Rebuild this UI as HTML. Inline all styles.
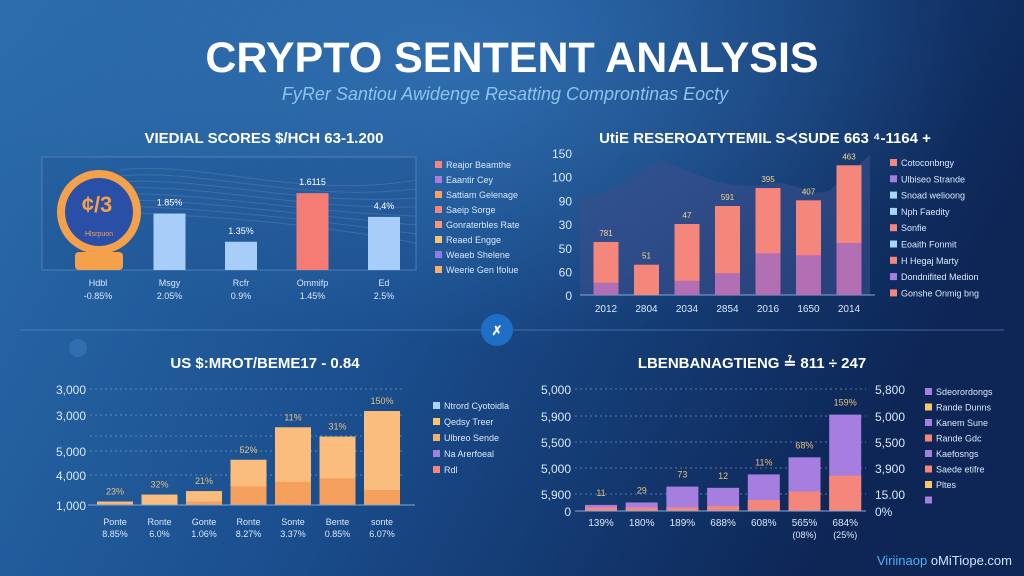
<!DOCTYPE html>
<html><head><meta charset="utf-8"><style>
body{margin:0;width:1024px;height:576px;overflow:hidden;font-family:"Liberation Sans",sans-serif}
svg{display:block}
</style></head><body>
<svg id="s" width="1024" height="576" viewBox="0 0 1024 576" xmlns="http://www.w3.org/2000/svg">
<defs>
<linearGradient id="bg" x1="0" y1="0" x2="1" y2="0.3"><stop offset="0" stop-color="#2b6cab"/><stop offset="0.5" stop-color="#1b4f8f"/><stop offset="1" stop-color="#0d2656"/></linearGradient>
<radialGradient id="glow" cx="0.45" cy="0.1" r="0.5"><stop offset="0" stop-color="#3c7fc0" stop-opacity="0.6"/><stop offset="1" stop-color="#3c7fc0" stop-opacity="0"/></radialGradient>
</defs>
<rect width="1024" height="576" fill="url(#bg)"/>
<rect width="1024" height="576" fill="url(#glow)"/>
<circle cx="78" cy="348" r="9" fill="#3c7fc0" opacity="0.5"/>
<text x="512" y="72" text-anchor="middle" fill="#fff" font-size="43" font-weight="bold">CRYPTO SENTENT ANALYSIS</text>
<text x="505" y="100" text-anchor="middle" fill="#8ec3f0" font-size="18" font-style="italic">FyRer Santiou Awidenge Resatting Comprontinas Eocty</text>
<line x1="20" y1="330" x2="1004" y2="330" stroke="#5a8fd0" stroke-opacity="0.6"/>
<circle cx="497" cy="330" r="16" fill="#1d6ec4"/>
<text x="497" y="335" text-anchor="middle" fill="#fff" font-size="13" font-weight="bold">✗</text>
<text x="1012" y="565" text-anchor="end" fill="#cfe3ff" font-size="13"><tspan fill="#4fb0f0">Viriinaop</tspan> oMiTiope.com</text>
<g id="g"></g>
</svg>
<script>
// Panel 1 data
const p1Cats=["Hdbl","Msgy","Rcfr","Ommifp","Ed"];
const p1Sub=["-0.85%","2.05%","0.9%","1.45%","2.5%"];
const p1Vals=[null,50,25,68,47];
const p1Labels=["","1.85%","1.35%","1.6115","4,4%"];
const p1Legend=["Reajor Beamthe","Eaantir Cey","Sattiam Gelenage","Saeip Sorge","Gonraterbles Rate","Reaed Engge","Weaeb Shelene","Weerie Gen Ifolue"];
const p1LegCol=["#f4867c","#a57ee0","#f7a25e","#f4867c","#f49874","#f8c66f","#8f7be8","#f7b068"];
// Panel 2 data
const p2Cats=["2012","2804","2034","2854","2016","1650","2014"];
const p2Vals=[56,32,75,94,113,100,137];
const p2Inner=[13,0,15,23,44,42,55];
const p2Labels=["781","51","47","591","395","407","463"];
const p2Ticks=["150","100","90","30","50","60","0"];
const p2Legend=["Cotoconbngy","Ulbiseo Strande","Snoad welioong","Nph Faedity","Sonfie","Eoaith Fonmit","H Hegaj Marty","Dondnifited Medion","Gonshe Onmig bng"];
const p2LegCol=["#f4867c","#a57ee0","#a9d4fb","#a9d4fb","#f4867c","#a9d4fb","#f4867c","#a57ee0","#f4867c"];
// Panel 3 data
const p3Cats=["Ponte","Ronte","Gonte","Ronte","Sonte","Bente","sonte"];
const p3Sub=["8.85%","6.0%","1.06%","8.27%","3.37%","0.85%","6.07%"];
const p3Vals=[3,9,12,39,67,59,81];
const p3Dark=[1,0,3,16,20,23,13];
const p3Labels=["23%","32%","21%","52%","11%","31%","150%"];
const p3Ticks=["3,000","3,000","5,000","4,000","1,000"];
const p3Legend=["Ntrord Cyotoidla","Qedsy Treer","Ulbreo Sende","Na Arerfoeal","Rdl"];
const p3LegCol=["#a9d4fb","#f8c66f","#f7b068","#a57ee0","#f4867c"];
// Panel 4 data
const p4Cats=["139%","180%","189%","688%","608%","565%","684%"];
const p4Sub=["","","","","","(08%)","(25%)"];
const p4Vals=[5,7,20,19,30,44,79];
const p4Pink=[3,3,3,4,9,16,29];
const p4Labels=["11","29","73","12","11%","68%","159%"];
const p4TicksL=["5,000","5,900","5,500","5,000","5,900","0"];
const p4TicksR=["5,800","5,000","5,500","3,900","15.00","0%"];
const p4Legend=["Sdeorordongs","Rande Dunns","Kanem Sune","Rande Gdc","Kaefosngs","Saede etifre","Pltes",""];
const p4LegCol=["#a57ee0","#f8c66f","#a57ee0","#f4867c","#a57ee0","#f4867c","#f8c66f","#a57ee0"];

const NS="http://www.w3.org/2000/svg";
const G=document.getElementById('g');
function mk(tag,attrs,txt){const e=document.createElementNS(NS,tag);for(const k in attrs)e.setAttribute(k,attrs[k]);if(txt!==undefined)e.textContent=txt;G.appendChild(e);return e;}
function legend(names,cols,x,y0,step,key){names.forEach((n,i)=>{
 const r=mk('rect',{x:x,y:y0+i*step-7,width:7,height:7,fill:cols[i]});
 
 
 const t=mk('text',{x:x+11,y:y0+i*step,fill:'#dbe8fa','font-size':9},n);
 
 
});}

// ---- Panel 1 ----
const t1=mk('text',{x:264,y:143,'text-anchor':'middle',fill:'#fff','font-size':15,'font-weight':'bold'},'VIEDIAL SCORES $/HCH 63-1.200');


const box=mk('rect',{x:42,y:157,width:374,height:113,fill:'#1d4f90','fill-opacity':0.3,stroke:'#6d93c8','stroke-opacity':0.6});


for(let i=0;i<8;i++)mk('path',{d:`M120 ${170+i*6} C200 ${160+i*8},300 ${200+i*3},416 ${180+i*9}`,stroke:'#6f90c0','stroke-opacity':0.35,fill:'none'});
const y1=v=>270-v*1.13;
const x1=i=>98+i*71.5;
// medal
mk('rect',{x:75,y:252,width:48,height:18,rx:4,fill:'#f5a04a'});
mk('circle',{cx:99,cy:212,r:42,fill:'#f5a04a'});
const md=mk('circle',{cx:99,cy:212,r:34,fill:'#2a4fa6'});


mk('text',{x:97,y:212,'text-anchor':'middle',fill:'#f5a04a','font-size':22,'font-weight':'bold'},'¢/3');
mk('text',{x:99,y:236,'text-anchor':'middle',fill:'#f5a04a','font-size':7},'Hlsrpuon');
p1Cats.forEach((c,i)=>{
 const cx=x1(i);
 if(p1Vals[i]!==null){
  const b=mk('rect',{x:cx-16,y:y1(p1Vals[i]),width:32,height:270-y1(p1Vals[i]),fill:i===3?'#f47c74':'#a8cdf8'});
  
  
  mk('text',{x:cx,y:y1(p1Vals[i])-8,'text-anchor':'middle',fill:'#fff','font-size':9},p1Labels[i]);
 }
 const l=mk('text',{x:cx,y:286,'text-anchor':'middle',fill:'#dbe8fa','font-size':9},c);
 
 
 mk('text',{x:cx,y:299,'text-anchor':'middle',fill:'#dbe8fa','font-size':9},p1Sub[i]);
});
legend(p1Legend,p1LegCol,435,168,15,'panel1');

// ---- Panel 2 ----
const t2=mk('text',{x:765,y:143,'text-anchor':'middle',fill:'#fff','font-size':15,'font-weight':'bold'},'UtiE RESEROΔTYTEMIL S≺SUDE 663 ⁴-1164 +');


mk('path',{d:'M580 200 C620 190,640 170,660 160 C690 170,720 190,760 185 C790 175,810 200,830 190 L870 155 L870 295 L580 295 Z',fill:'#3a4f8c','fill-opacity':0.6});
const y2=v=>295-v*142/150;
const x2=i=>606+i*40.5;
p2Ticks.forEach((t,i)=>{const e=mk('text',{x:572,y:153+i*23.7+5,'text-anchor':'end',fill:'#dbe8fa','font-size':12},t);
 
 });
const ax2=mk('line',{x1:580,y1:295,x2:875,y2:295,stroke:'#8aa6cc'});


p2Cats.forEach((c,i)=>{
 const cx=x2(i);
 const b=mk('rect',{x:cx-12.5,y:y2(p2Vals[i]),width:25,height:295-y2(p2Vals[i]),fill:'#f4867c'});
 
 
 if(p2Inner[i]>0){const p=mk('rect',{x:cx-12.5,y:y2(p2Inner[i]),width:25,height:295-y2(p2Inner[i]),fill:'#b36fb3'});
  
  }
 mk('text',{x:cx,y:y2(p2Vals[i])-6,'text-anchor':'middle',fill:'#f8d78a','font-size':8},p2Labels[i]);
 const l=mk('text',{x:cx,y:312,'text-anchor':'middle',fill:'#dbe8fa','font-size':10},c);
 
 
});
legend(p2Legend,p2LegCol,890,166,16.3,'panel2');

// ---- Panel 3 ----
const t3=mk('text',{x:265,y:368,'text-anchor':'middle',fill:'#fff','font-size':15,'font-weight':'bold'},'US $:MROT/BEME17 - 0.84');


const y3=v=>505-v*1.16;
const x3=i=>115+i*44.5;
[389,415,436,451,475].forEach(y=>mk('line',{x1:90,y1:y,x2:402,y2:y,stroke:'#8aa6cc','stroke-dasharray':'2 3','stroke-opacity':0.6}));
[389,415,451,475,505].forEach((y,i)=>{const e=mk('text',{x:86,y:y+5,'text-anchor':'end',fill:'#dbe8fa','font-size':12},p3Ticks[i]);
 
 });
p3Cats.forEach((c,i)=>{
 const cx=x3(i);
 const b=mk('rect',{x:cx-18,y:y3(p3Vals[i]),width:36,height:505-y3(p3Vals[i]),fill:'#fbbd7d'});
 
 
 if(p3Dark[i]>0){const d=mk('rect',{x:cx-18,y:y3(p3Dark[i]),width:36,height:505-y3(p3Dark[i]),fill:'#f6a05e'});
  
  }
 mk('text',{x:cx,y:y3(p3Vals[i])-7,'text-anchor':'middle',fill:'#e8c07a','font-size':9},p3Labels[i]);
 const l=mk('text',{x:cx,y:525,'text-anchor':'middle',fill:'#dbe8fa','font-size':9},c);
 
 
 mk('text',{x:cx,y:537,'text-anchor':'middle',fill:'#dbe8fa','font-size':9},p3Sub[i]);
});
const ax3=mk('line',{x1:88,y1:505,x2:415,y2:505,stroke:'#8aa6cc'});


legend(p3Legend,p3LegCol,433,409,16,'panel3');

// ---- Panel 4 ----
const t4=mk('text',{x:752,y:368,'text-anchor':'middle',fill:'#fff','font-size':15,'font-weight':'bold'},'LBENBANAGTIENG ≟ 811 ÷ 247');


const y4=v=>511-v*1.22;
const x4=i=>601+i*40.7;
[389,416,442,468,494].forEach(y=>mk('line',{x1:575,y1:y,x2:866,y2:y,stroke:'#8aa6cc','stroke-dasharray':'2 3','stroke-opacity':0.6}));
[389,416,442,468,494,511].forEach((y,i)=>{
 const e=mk('text',{x:571,y:y+5,'text-anchor':'end',fill:'#dbe8fa','font-size':12},p4TicksL[i]);
 
 
 const r=mk('text',{x:875,y:y+5,fill:'#dbe8fa','font-size':12},p4TicksR[i]);
 
 
});
p4Cats.forEach((c,i)=>{
 const cx=x4(i);
 const b=mk('rect',{x:cx-16,y:y4(p4Vals[i]),width:32,height:511-y4(p4Vals[i]),fill:'#a57ee0'});
 
 
 const p=mk('rect',{x:cx-16,y:y4(p4Pink[i]),width:32,height:511-y4(p4Pink[i]),fill:'#f4867c'});
 
 
 mk('text',{x:cx,y:y4(p4Vals[i])-9,'text-anchor':'middle',fill:'#e8c07a','font-size':9},p4Labels[i]);
 const l=mk('text',{x:cx,y:526,'text-anchor':'middle',fill:'#dbe8fa','font-size':10},c);
 
 
 mk('text',{x:cx,y:538,'text-anchor':'middle',fill:'#dbe8fa','font-size':9},p4Sub[i]);
});
const ax4=mk('line',{x1:575,y1:511,x2:866,y2:511,stroke:'#8aa6cc'});


legend(p4Legend,p4LegCol,925,395,15.5,'panel4');
</script>
</body></html>
